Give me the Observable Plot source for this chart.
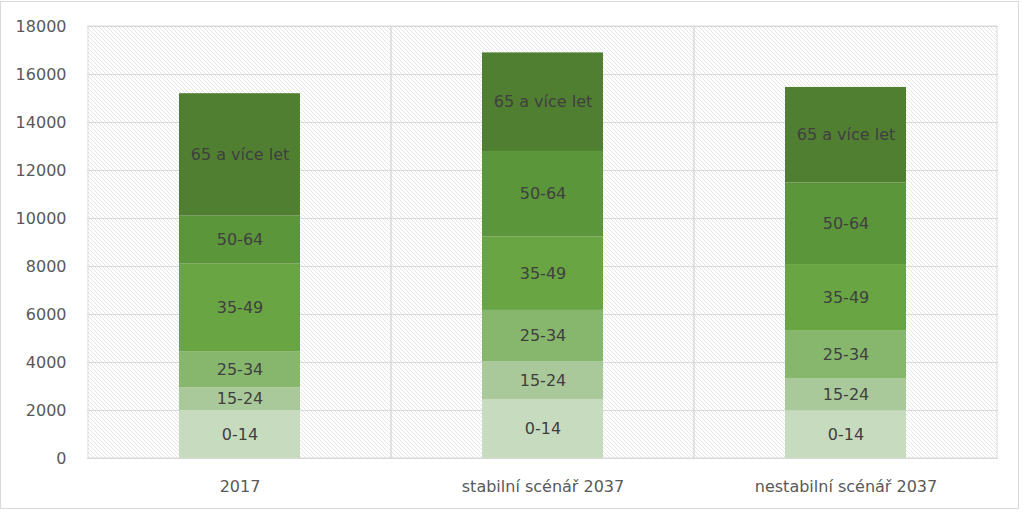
<!DOCTYPE html>
<html><head><meta charset="utf-8">
<script src="https://cdn.jsdelivr.net/npm/d3@7"></script>
<script src="https://cdn.jsdelivr.net/npm/@observablehq/plot@0.6"></script>
<style>
html,body{margin:0;padding:0;background:#fff;}
#chart{position:relative;width:1024px;height:513px;}
#border{position:absolute;left:0;top:1px;width:1017px;height:506px;border:1px solid #d9d9d9;pointer-events:none;}
</style></head><body>
<svg width="0" height="0" style="position:absolute"><defs>
<pattern id="hatch" width="4" height="4" patternUnits="userSpaceOnUse">
<path d="M-1,-1 L5,5 M-1,3 L1,5 M3,-1 L5,1" stroke="#dcdcdc" stroke-width="0.75" fill="none"/>
</pattern></defs></svg>
<div id="chart"><div id="border"></div></div>
<script>
const categories = ["2017", "stabilní scénář 2037", "nestabilní scénář 2037"];
const groups = ["0-14", "15-24", "25-34", "35-49", "50-64", "65 a více let"];
const values2017 = [2000, 950, 1500, 3650, 2000, 5100];
const valuesStable = [2460, 1580, 2130, 3060, 3560, 4110];
const valuesUnstable = [1990, 1340, 2000, 2750, 3400, 3980];
const groupColors = ["#c7dcbf", "#a9c99a", "#87b76c", "#6aa544", "#5c963a", "#517f32"];
const yTicks = [0, 2000, 4000, 6000, 8000, 10000, 12000, 14000, 16000, 18000];

const seriesValues = [values2017, valuesStable, valuesUnstable];
const data = [];
categories.forEach((c, i) => groups.forEach((g, j) => data.push({cat: c, group: g, value: seriesValues[i][j]})));
const yMax = yTicks[yTicks.length - 1];
const font = "DejaVu Sans, sans-serif";

const chart = Plot.plot({
  width: 1024, height: 513,
  marginLeft: 87, marginRight: 26, marginTop: 26, marginBottom: 55,
  style: {fontFamily: font, fontSize: "16px", background: "transparent"},
  x: {domain: categories, padding: 0},
  y: {domain: [0, yMax]},
  color: {domain: groups, range: groupColors},
  marks: [
    Plot.barY(categories, {x: d => d, y1: () => 0, y2: () => yMax, fill: "url(#hatch)"}),
    Plot.ruleY(yTicks, {stroke: "#d9d9d9", strokeWidth: 1}),
    Plot.barY(categories, {x: d => d, y1: () => 0, y2: () => yMax, fill: "none", stroke: "#d9d9d9", strokeWidth: 1}),
    Plot.barY(data, {x: "cat", y: "value", z: "group", fill: "group", insetLeft: 91, insetRight: 91}),
    Plot.text(data, Plot.stackY({x: "cat", y: "value", z: "group", text: "group", fill: "#404040", fontSize: 16})),
    Plot.axisY(yTicks, {tickSize: 0, tickPadding: 21, tickFormat: d => String(d), fontSize: 16, color: "#595959", label: null}),
    Plot.axisX({tickSize: 0, tickPadding: 22, fontSize: 16, color: "#595959", label: null})
  ]
});
document.getElementById("chart").appendChild(chart);
</script>
</body></html>
